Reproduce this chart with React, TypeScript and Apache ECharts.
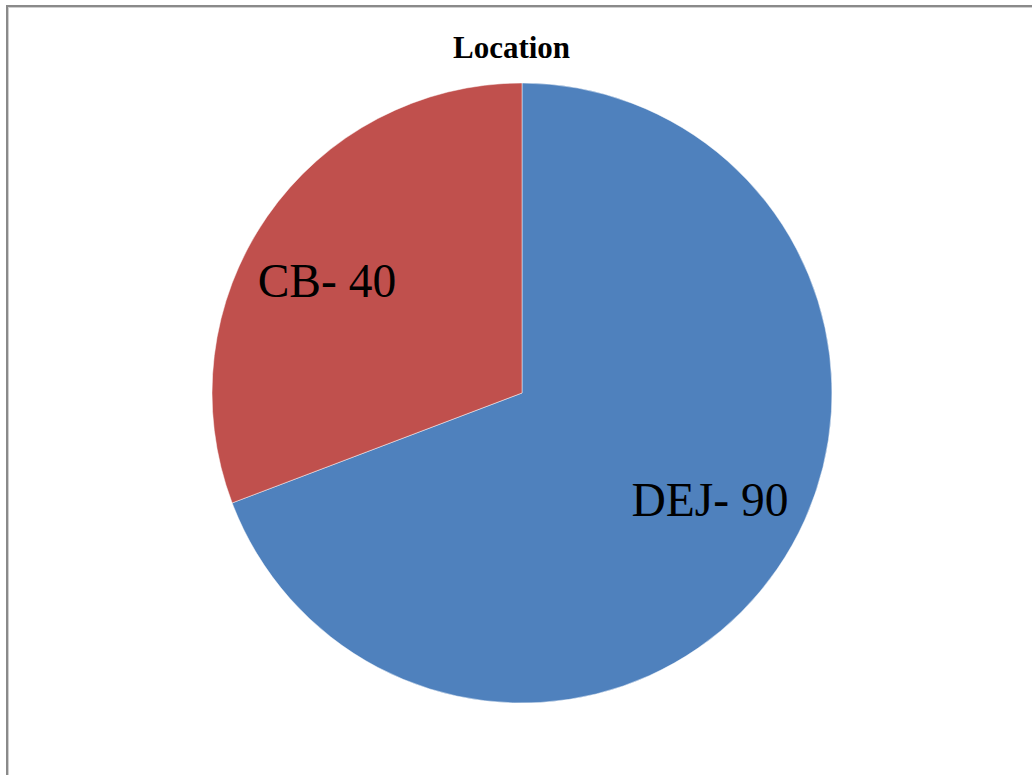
import React, { useEffect, useRef } from "react";
import * as echarts from "echarts";

const titleText = "Location";
const categories = ["DEJ", "CB"];
const values = [90, 40];
const colors = ["#4F81BD", "#C0504D"];
// label nudges (px) relative to the "inside" position, to mimic Excel best-fit placement
const labelNudges: [number, number][] = [
  [58, 17],
  [-65, -22],
];

const FONT = "'Liberation Serif', 'Times New Roman', serif";

export default function App() {
  const ref = useRef<HTMLDivElement>(null);

  useEffect(() => {
    if (!ref.current) return;
    const chart = echarts.init(ref.current, undefined, { renderer: "svg" });
    chart.setOption({
      animation: false,
      backgroundColor: "transparent",
      title: {
        text: titleText,
        left: 453,
        top: 32,
        padding: 0,
        textStyle: {
          fontFamily: FONT,
          fontWeight: "bold",
          fontSize: 31,
          color: "#000",
        },
      },
      series: [
        {
          type: "pie",
          center: [522, 393],
          radius: [0, 310],
          startAngle: 90,
          clockwise: true,
          avoidLabelOverlap: false,
          data: categories.map((c, i) => ({
            name: c,
            value: values[i],
            itemStyle: { color: colors[i] },
          })),
          itemStyle: {
            borderColor: "rgba(255,255,255,0.6)",
            borderWidth: 0.8,
          },
          label: {
            show: true,
            position: "inside",
            formatter: (p: any) => `${p.name}- ${p.value}`,
            fontFamily: FONT,
            fontSize: 47.5,
            color: "#000",
          },
          labelLine: { show: false },
          labelLayout: (params: any) => {
            const n = labelNudges[params.dataIndex] || [0, 0];
            return { dx: n[0], dy: n[1] };
          },
          emphasis: { disabled: true },
        },
      ],
    });
    return () => chart.dispose();
  }, []);

  return (
    <div
      style={{
        position: "fixed",
        left: 0,
        top: 0,
        width: 1032,
        height: 775,
        overflow: "hidden",
        background: "#fff",
      }}
    >
      <div
        style={{
          position: "absolute",
          left: 6,
          top: 5,
          width: 1100,
          height: 900,
          borderTop: "2px solid #8a8a8a",
          borderLeft: "2px solid #8a8a8a",
          boxShadow: "inset 1px 1px 0 #cfcfcf",
        }}
      />
      <div
        ref={ref}
        style={{ position: "absolute", left: 0, top: 0, width: 1032, height: 775 }}
      />
    </div>
  );
}
